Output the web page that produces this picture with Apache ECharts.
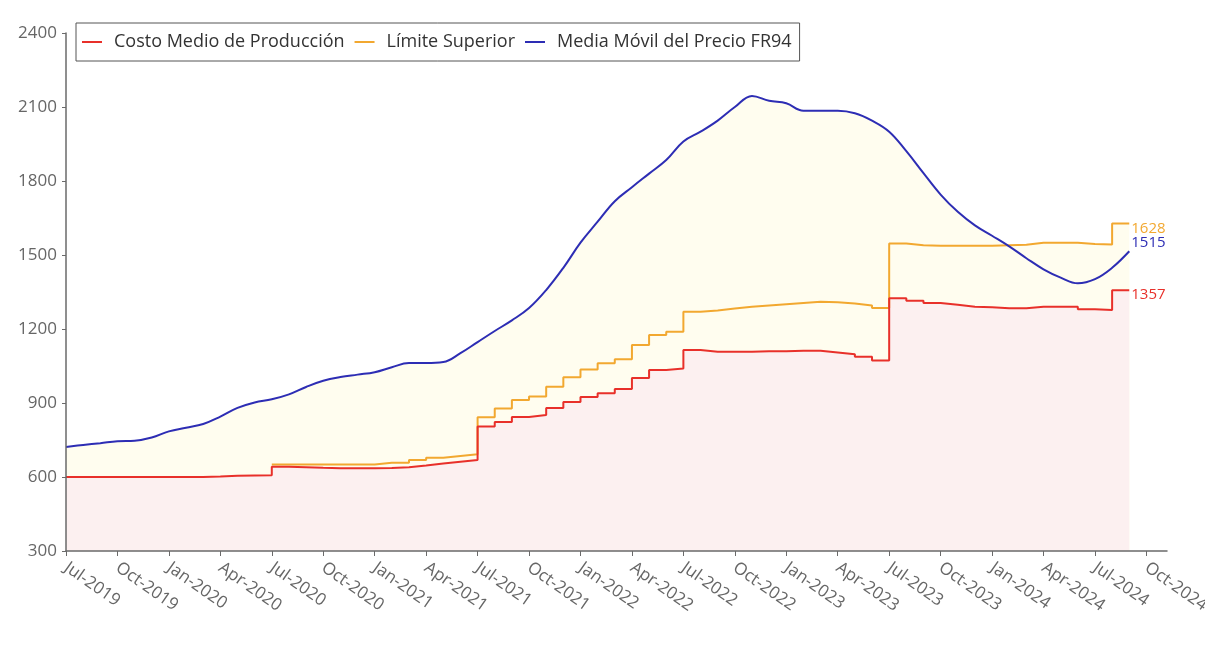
<!DOCTYPE html>
<html>
<head>
<meta charset="utf-8">
<title>Costo medio de producción</title>
<script src="https://cdn.jsdelivr.net/npm/echarts@6/dist/echarts.min.js"></script>
<style>
  html, body { margin: 0; padding: 0; background: #fff; }
  #chart { width: 1205px; height: 655px; }
</style>
</head>
<body>
<div id="chart"></div>
<script>
// meses desde Jul-2019 (índice 0) hasta Sep-2024 (índice 62)
const etiquetasX = ['Jul-2019', 'Oct-2019', 'Jan-2020', 'Apr-2020', 'Jul-2020', 'Oct-2020',
  'Jan-2021', 'Apr-2021', 'Jul-2021', 'Oct-2021', 'Jan-2022', 'Apr-2022', 'Jul-2022',
  'Oct-2022', 'Jan-2023', 'Apr-2023', 'Jul-2023', 'Oct-2023', 'Jan-2024', 'Apr-2024',
  'Jul-2024', 'Oct-2024']
const ticksY = [300, 600, 900, 1200, 1500, 1800, 2100, 2400]

const costoMedio = [
  600, 600, 600, 600, 600, 600, 600, 600, 602, 605, 606, 607,
  642, 640, 637, 635, 635, 635, 636, 640, 647, 655, 662, 669,
  805, 823, 843, 851, 880, 904, 924, 940, 957, 1001, 1034, 1040,
  1115, 1108, 1108, 1108, 1110, 1110, 1112, 1112, 1105, 1098, 1088, 1072,
  1325, 1315, 1305, 1298, 1290, 1288, 1284, 1284, 1290, 1290, 1290, 1280,
  1277, 1357, 1357
]
const limiteSuperior = [
  null, null, null, null, null, null, null, null, null, null, null, null,
  651, 651, 651, 651, 651, 651, 658, 658, 669, 678, 685, 692,
  842, 878, 912, 926, 966, 1004, 1036, 1061, 1077, 1135, 1176, 1189,
  1270, 1275, 1283, 1290, 1295, 1300, 1305, 1310, 1308, 1303, 1295, 1285,
  1547, 1540, 1538, 1538, 1537, 1537, 1540, 1542, 1550, 1550, 1550, 1545,
  1543, 1628, 1628
]
const mediaMovil = [
  722, 730, 737, 745, 747, 760, 785, 800, 815, 845, 880, 902,
  915, 935, 965, 990, 1005, 1015, 1025, 1045, 1062, 1062, 1066, 1102,
  1147, 1192, 1235, 1285, 1358, 1448, 1550, 1635, 1718, 1775, 1830, 1885,
  1960, 2000, 2045, 2100, 2145, 2125, 2115, 2085, 2085, 2085, 2075, 2045,
  2000, 1921, 1832, 1745, 1675, 1620, 1578, 1535, 1487, 1442, 1408, 1385,
  1402, 1448, 1515
]

const nombres = ['Costo Medio de Producción', 'Límite Superior', 'Media Móvil del Precio FR94']
const colores = ['#e8302a', '#f2a830', '#2d2db4']

const chart = echarts.init(document.getElementById('chart'))

const toXY = arr => arr.map((v, i) => [i, v])
const posTicks = etiquetasX.map((l, i) => i * 3)

const option = {
  backgroundColor: '#fff',
  animation: false,
  textStyle: { fontFamily: 'Open Sans' },
  legend: {
    data: nombres,
    left: 76,
    top: 23,
    padding: [10, 8, 10, 6],
    backgroundColor: '#fff',
    borderColor: '#555',
    borderWidth: 1,
    icon: 'rect',
    itemWidth: 20,
    itemHeight: 2,
    itemGap: 10,
    textStyle: { fontSize: 18, color: '#333', padding: [0, 0, 0, 7] }
  },
  grid: { left: 66, right: 38, top: 33, bottom: 104, outerBoundsMode: 'none' },
  xAxis: {
    type: 'value',
    min: 0,
    max: 64.2,
    interval: 3,
    z: 5,
    splitLine: { show: false },
    axisLine: { lineStyle: { color: '#6a6a6a', width: 1.5 } },
    axisTick: { length: 5, lineStyle: { color: '#6a6a6a' }, customValues: posTicks },
    axisLabel: {
      customValues: posTicks,
      formatter: v => etiquetasX[Math.round(v / 3)],
      rotate: -35,
      margin: 15,
      fontSize: 17,
      color: '#666'
    }
  },
  yAxis: {
    type: 'value',
    min: 300,
    max: 2400,
    interval: 300,
    z: 5,
    splitLine: { show: false },
    axisLine: { show: true, lineStyle: { color: '#6a6a6a', width: 1.5 } },
    axisTick: { show: true, length: 4, lineStyle: { color: '#6a6a6a' } },
    axisLabel: {
      formatter: v => (ticksY.indexOf(v) >= 0 ? String(v) : ''),
      margin: 9,
      fontSize: 17,
      color: '#666'
    }
  },
  series: [
    {
      // relleno bajo la media móvil
      name: 'relleno',
      type: 'line',
      data: toXY(mediaMovil),
      smooth: 0.4,
      symbol: 'none',
      silent: true,
      lineStyle: { width: 0 },
      areaStyle: { color: '#fffdef', opacity: 1 }
    },
    {
      name: nombres[1],
      type: 'line',
      step: 'end',
      data: toXY(limiteSuperior),
      symbol: 'none',
      color: colores[1],
      lineStyle: { width: 2, color: colores[1] },
      areaStyle: { color: '#fffdef', opacity: 1 },
      endLabel: { show: true, formatter: p => p.value[1], color: colores[1], fontSize: 15, distance: 2, offset: [0, 5] }
    },
    {
      name: nombres[0],
      type: 'line',
      step: 'end',
      data: toXY(costoMedio),
      symbol: 'none',
      color: colores[0],
      lineStyle: { width: 2, color: colores[0] },
      areaStyle: { color: '#fcf0f0', opacity: 1 },
      endLabel: { show: true, formatter: p => p.value[1], color: colores[0], fontSize: 15, distance: 2, offset: [0, 4] }
    },
    {
      name: nombres[2],
      type: 'line',
      data: toXY(mediaMovil),
      smooth: 0.4,
      symbol: 'none',
      color: colores[2],
      lineStyle: { width: 2, color: colores[2] },
      endLabel: { show: true, formatter: p => p.value[1], color: colores[2], fontSize: 15, distance: 2, offset: [0, -9] }
    }
  ]
}

chart.setOption(option)
window.onresize = () => {
  chart.resize()
}
</script>
</body>
</html>
